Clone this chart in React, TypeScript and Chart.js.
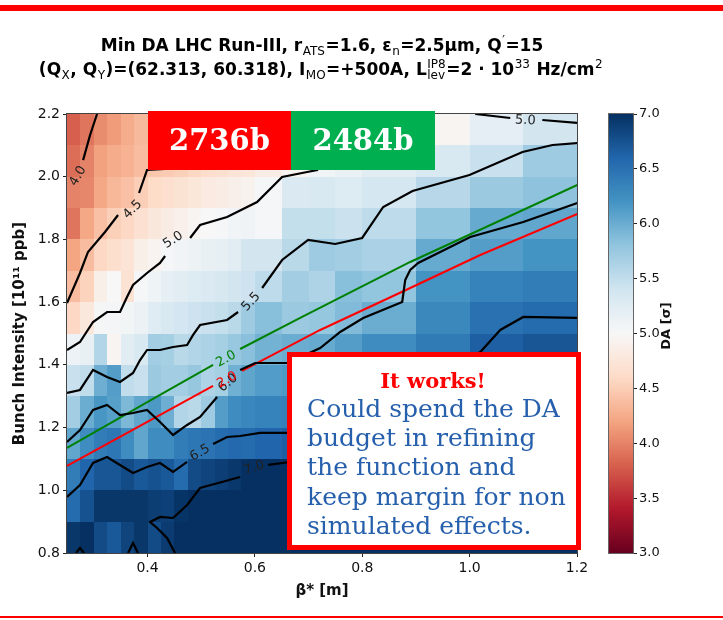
import React, { useEffect, useRef } from 'react';
import { Chart, registerables } from 'chart.js';
Chart.register(...registerables);

const SANS = '"DejaVu Sans", sans-serif';
const SERIF = '"DejaVu Serif", serif';

// ---------- data ----------
const X_EDGES = [0.25, 0.275, 0.3, 0.325, 0.35, 0.375, 0.4, 0.425, 0.45, 0.475, 0.5, 0.525, 0.55, 0.575, 0.6, 0.65, 0.7, 0.75, 0.8, 0.9, 1.0, 1.1, 1.2];
const Y_EDGES = [2.2, 2.1, 2.0, 1.9, 1.8, 1.7, 1.6, 1.5, 1.4, 1.3, 1.2, 1.1, 1.0, 0.9, 0.8];
const DA_ROWS = [
  [3.80, 3.92, 4.06, 4.15, 4.25, 4.35, 4.40, 4.42, 4.45, 4.48, 4.52, 4.55, 4.58, 4.62, 4.70, 4.78, 4.90, 5.00, 5.08, 4.96, 5.20, 5.38],
  [3.88, 4.00, 4.18, 4.25, 4.30, 4.38, 4.45, 4.48, 4.52, 4.57, 4.63, 4.67, 4.72, 4.76, 4.85, 4.95, 5.06, 5.14, 5.23, 5.32, 5.45, 5.72],
  [4.00, 4.02, 4.22, 4.34, 4.40, 4.51, 4.61, 4.66, 4.71, 4.76, 4.82, 4.85, 4.89, 4.93, 5.02, 5.30, 5.32, 5.27, 5.36, 5.56, 5.75, 5.82],
  [3.92, 4.22, 4.40, 4.52, 4.58, 4.69, 4.77, 4.84, 4.90, 4.96, 5.00, 5.02, 5.06, 5.08, 5.02, 5.48, 5.48, 5.44, 5.53, 5.80, 6.02, 6.05],
  [4.20, 4.38, 4.58, 4.65, 4.72, 4.88, 4.94, 5.02, 5.07, 5.11, 5.16, 5.18, 5.22, 5.38, 5.38, 5.55, 5.72, 5.70, 5.65, 6.02, 6.12, 6.20],
  [4.38, 4.55, 4.88, 5.00, 4.70, 5.02, 5.10, 5.18, 5.22, 5.27, 5.31, 5.33, 5.38, 5.42, 5.52, 5.70, 5.62, 5.85, 5.80, 6.20, 6.35, 6.40],
  [4.58, 4.78, 5.03, 5.04, 5.05, 5.13, 5.25, 5.32, 5.37, 5.42, 5.45, 5.48, 5.55, 5.72, 5.85, 5.75, 5.78, 5.88, 6.00, 6.30, 6.50, 6.55],
  [5.12, 5.15, 5.60, 4.95, 5.22, 5.32, 5.70, 5.68, 5.55, 5.60, 5.64, 5.68, 5.76, 5.84, 5.95, 6.00, 6.02, 6.12, 6.25, 6.42, 6.65, 6.72],
  [5.45, 5.50, 5.98, 6.12, 5.50, 5.45, 5.75, 5.70, 5.70, 5.77, 5.62, 5.68, 5.97, 6.06, 6.13, 6.15, 6.21, 6.30, 6.44, 6.61, 6.85, 7.00],
  [5.70, 6.00, 6.18, 6.10, 5.90, 6.05, 6.15, 5.98, 5.60, 5.55, 5.72, 6.12, 6.26, 6.31, 6.35, 6.37, 6.41, 6.48, 6.72, 6.92, 7.10, 7.20],
  [6.05, 6.25, 6.40, 6.45, 6.25, 6.05, 6.25, 6.25, 6.40, 6.45, 6.48, 6.54, 6.57, 6.55, 6.60, 6.65, 6.70, 6.85, 6.97, 7.10, 7.20, 7.20],
  [6.40, 6.60, 6.72, 6.72, 6.80, 6.70, 6.75, 6.70, 6.55, 6.80, 6.85, 6.89, 6.94, 7.00, 7.10, 7.10, 7.10, 7.20, 7.20, 7.20, 7.20, 7.20],
  [6.55, 6.75, 6.95, 6.95, 6.95, 6.95, 6.90, 6.88, 6.97, 7.05, 7.20, 7.20, 7.20, 7.20, 7.20, 7.20, 7.20, 7.20, 7.20, 7.20, 7.20, 7.20],
  [6.95, 7.02, 6.80, 6.70, 6.85, 6.95, 6.80, 6.92, 7.10, 7.20, 7.20, 7.20, 7.20, 7.20, 7.20, 7.20, 7.20, 7.20, 7.20, 7.20, 7.20, 7.20],
];

const X_TICKS = [0.4, 0.6, 0.8, 1.0, 1.2];
const Y_TICKS = [0.8, 1.0, 1.2, 1.4, 1.6, 1.8, 2.0, 2.2];
const CB_TICKS = [3.0, 3.5, 4.0, 4.5, 5.0, 5.5, 6.0, 6.5, 7.0];

// contour lines (each a list of segments, each a list of [beta*, intensity])
const C40 = [[[0.306, 2.2], [0.293, 2.133], [0.280, 2.053]]];
const C45 = [
  [[0.4327, 2.0246], [0.3991, 2.0214], [0.3842, 1.9481]],
  [[0.3451, 1.878], [0.3208, 1.8237], [0.2891, 1.76], [0.2742, 1.693], [0.25, 1.5973]],
];
const C50 = [
  [[0.7495, 2.2], [0.716, 2.0214], [0.6973, 2.015], [0.6507, 1.9991], [0.6041, 1.9194], [0.5482, 1.8716], [0.4979, 1.846], [0.4793, 1.8046]],
  [[0.4327, 1.7472], [0.4233, 1.7249], [0.3991, 1.693], [0.373, 1.6547], [0.3618, 1.6164], [0.3488, 1.5686], [0.3246, 1.5686], [0.2985, 1.5367], [0.2742, 1.4729], [0.25, 1.4474]],
  [[1.0105, 2.2], [1.0757, 2.1872]],
  [[1.1354, 2.1809], [1.2006, 2.1713]],
];
const C55 = [
  [[0.25, 1.3103], [0.2742, 1.3199], [0.2985, 1.3837], [0.3246, 1.3613], [0.3488, 1.3454], [0.373, 1.3741], [0.3861, 1.4155], [0.3991, 1.4474], [0.4233, 1.4474], [0.4476, 1.457], [0.4737, 1.4634], [0.4849, 1.4953], [0.4979, 1.5271], [0.5482, 1.5431], [0.5687, 1.5686]],
  [[0.6135, 1.6451], [0.6507, 1.7344], [0.6992, 1.7982], [0.7495, 1.7854], [0.7998, 1.8046], [0.839, 1.9034], [0.8936, 1.9545], [0.9997, 2.0055], [1.0985, 2.0788], [1.1544, 2.1011], [1.2006, 2.1075]],
];
const C60 = [
  [[0.25, 1.154], [0.2742, 1.1923], [0.2985, 1.2561], [0.3246, 1.272], [0.3488, 1.2401], [0.373, 1.2465], [0.3991, 1.2561], [0.4233, 1.2178], [0.4476, 1.1764], [0.4737, 1.2083], [0.4979, 1.2338], [0.5296, 1.2976]],
  [[0.5725, 1.3837], [0.6004, 1.406], [0.6619, 1.406], [0.6936, 1.4315], [0.7216, 1.4538], [0.7589, 1.5048], [0.8018, 1.5495], [0.8744, 1.6005], [0.88, 1.6706], [0.8893, 1.7025], [0.9042, 1.7249], [1.0012, 1.8078], [1.0999, 1.8556], [1.2006, 1.9162]],
];
const C65 = [
  [[0.25, 0.9787], [0.2742, 1.017], [0.2985, 1.0871], [0.3246, 1.1062], [0.3488, 1.0807], [0.373, 1.0552], [0.3991, 1.0743], [0.4233, 1.0871], [0.4476, 1.0584], [0.4737, 1.0903]],
  [[0.5221, 1.1477], [0.5482, 1.17], [0.5725, 1.1732], [0.6097, 1.1828], [0.6657, 1.1828], [0.7775, 1.2242], [0.908, 1.3358], [1.0198, 1.441], [1.0571, 1.5112], [1.0999, 1.5527], [1.2006, 1.5495]],
];
const C70 = [
  [[0.4513, 0.8], [0.4364, 0.8479], [0.4178, 0.8798], [0.4047, 0.8989], [0.4233, 0.9149], [0.4476, 0.9117], [0.4737, 0.9532], [0.4979, 1.0074], [0.5725, 1.0425]],
  [[0.6247, 1.0808], [0.6657, 1.0903], [0.8707, 1.1445], [1.2006, 1.2242]],
  [[0.2668, 0.8], [0.2742, 0.8159], [0.2817, 0.8]],
  [[0.3637, 0.8], [0.373, 0.832], [0.3823, 0.8]],
];
const LUMI_2484 = [
  [[0.25, 1.1349], [0.4233, 1.3039], [0.5221, 1.3996]],
  [[0.5725, 1.4506], [0.6843, 1.5495], [0.8893, 1.7281], [1.2006, 1.9736]],
];
const LUMI_2736 = [
  [[0.25, 1.0775], [0.5221, 1.3327]],
  [[0.5762, 1.3805], [0.7216, 1.5112], [0.8893, 1.6452], [1.0198, 1.7504], [1.2006, 1.8811]],
];
const CONTOUR_LABELS = [
  { text: '4.0', x: 0.2705, y: 2.0023, angle: -60, color: '#222' },
  { text: '4.5', x: 0.3721, y: 1.8955, angle: -45, color: '#222' },
  { text: '5.0', x: 0.4476, y: 1.7982, angle: -33, color: '#222' },
  { text: '5.0', x: 1.1037, y: 2.1790, angle: 3, color: '#222' },
  { text: '5.5', x: 0.5930, y: 1.6005, angle: -47, color: '#222' },
  { text: '6.0', x: 0.5501, y: 1.3422, angle: -40, color: '#222' },
  { text: '6.5', x: 0.4979, y: 1.1190, angle: -30, color: '#222' },
  { text: '7.0', x: 0.5986, y: 1.0711, angle: -18, color: '#222' },
  { text: '2.0', x: 0.5464, y: 1.4187, angle: -29, color: '#008000' },
  { text: '2.0', x: 0.5482, y: 1.3518, angle: -29, color: '#ff0000' },
];

const TITLE_1: [string, string][] = [['Min DA LHC Run-III, r', ''], ['ATS', 'sub'], ['=1.6, ε', ''], ['n', 'sub'], ['=2.5μm, Q', ''], ['′', 'sup'], ['=15', '']];
const TITLE_2: [string, string][] = [['(Q', ''], ['X', 'sub'], [', Q', ''], ['Y', 'sub'], [')=(62.313, 60.318), I', ''], ['MO', 'sub'], ['=+500A, L', ''], ['IP8|lev', 'stack'], ['=2 · 10', ''], ['33', 'sup'], [' Hz/cm', ''], ['2', 'sup']];
const NOTE_LINES = ['Could spend the DA', 'budget in refining', 'the function and', 'keep margin for non', 'simulated effects.'];

// ---------- colormap ----------
const RDBU = [[103, 0, 31], [178, 24, 43], [214, 96, 77], [244, 165, 130], [253, 219, 199], [247, 247, 247], [209, 229, 240], [146, 197, 222], [67, 147, 195], [33, 102, 172], [5, 48, 97]];
const CB_MIN = 3, CB_MAX = 7;
function rdbuT(t: number) {
  t = Math.max(0, Math.min(1, t));
  const s = t * 10;
  const i = Math.min(9, Math.floor(s));
  const f = s - i;
  const a = RDBU[i], b = RDBU[i + 1];
  return `rgb(${Math.round(a[0] + (b[0] - a[0]) * f)},${Math.round(a[1] + (b[1] - a[1]) * f)},${Math.round(a[2] + (b[2] - a[2]) * f)})`;
}
const rdbu = (v: number) => rdbuT((v - CB_MIN) / (CB_MAX - CB_MIN));

function drawRich(ctx: CanvasRenderingContext2D, runs: [string, string][], cx: number, base: number) {
  const MAIN = `bold 17px ${SANS}`;
  const SMALL = `12px ${SANS}`;
  const widths = runs.map(([t, k]) => {
    if (k === '') { ctx.font = MAIN; return ctx.measureText(t).width; }
    ctx.font = SMALL;
    if (k === 'stack') { const [a, b] = t.split('|'); return Math.max(ctx.measureText(a).width, ctx.measureText(b).width) + 1; }
    return ctx.measureText(t).width + 1;
  });
  const total = widths.reduce((a, b) => a + b, 0);
  let x = cx - total / 2;
  ctx.textAlign = 'left';
  ctx.textBaseline = 'alphabetic';
  ctx.fillStyle = '#000';
  runs.forEach(([t, k], i) => {
    if (k === '') { ctx.font = MAIN; ctx.fillText(t, x, base); }
    else {
      ctx.font = SMALL;
      if (k === 'sub') ctx.fillText(t, x + 0.5, base + 4);
      else if (k === 'sup') ctx.fillText(t, x + 0.5, base - 7);
      else { const [a, b] = t.split('|'); ctx.fillText(a, x + 0.5, base - 7.5); ctx.fillText(b, x + 0.5, base + 4); }
    }
    x += widths[i];
  });
}

const heatPlugin = {
  id: 'heat',
  beforeDatasetsDraw(chart: any) {
    const { ctx, scales: { x, y } } = chart;
    ctx.save();
    for (let r = 0; r < DA_ROWS.length; r++) {
      const y0 = Math.round(y.getPixelForValue(Y_EDGES[r]));
      const y1 = Math.round(y.getPixelForValue(Y_EDGES[r + 1]));
      for (let c = 0; c < DA_ROWS[r].length; c++) {
        const x0 = Math.round(x.getPixelForValue(X_EDGES[c]));
        const x1 = Math.round(x.getPixelForValue(X_EDGES[c + 1]));
        ctx.fillStyle = rdbu(DA_ROWS[r][c]);
        ctx.fillRect(x0, y0, x1 - x0, y1 - y0);
      }
    }
    ctx.restore();
  },
  afterDatasetsDraw(chart: any) {
    const { ctx, scales: { x, y }, chartArea } = chart;
    ctx.save();
    ctx.font = `13px ${SANS}`;
    ctx.textAlign = 'center';
    ctx.textBaseline = 'middle';
    for (const L of CONTOUR_LABELS) {
      ctx.save();
      ctx.translate(x.getPixelForValue(L.x), y.getPixelForValue(L.y));
      ctx.rotate((L.angle * Math.PI) / 180);
      ctx.fillStyle = L.color;
      ctx.fillText(L.text, 0, 0);
      ctx.restore();
    }
    ctx.strokeStyle = '#444';
    ctx.lineWidth = 1;
    ctx.strokeRect(Math.round(chartArea.left) - 0.5, Math.round(chartArea.top) - 0.5, Math.round(chartArea.right - chartArea.left) + 1, Math.round(chartArea.bottom - chartArea.top) + 1);
    ctx.restore();
  },
  afterDraw(chart: any) {
    const ctx: CanvasRenderingContext2D = chart.ctx;
    ctx.save();
    // slide decorations
    ctx.fillStyle = '#ff0000';
    ctx.fillRect(0, 5, 723, 6);
    ctx.fillRect(0, 616, 723, 2);
    // title
    drawRich(ctx, TITLE_1, 322, 51);
    drawRich(ctx, TITLE_2, 321, 75);
    // filling-scheme boxes
    ctx.fillStyle = '#ff0000';
    ctx.fillRect(148, 111, 143, 59);
    ctx.fillStyle = '#00b050';
    ctx.fillRect(291, 111, 144, 59);
    ctx.fillStyle = '#fff';
    ctx.font = `bold 29px ${SERIF}`;
    ctx.textAlign = 'center';
    ctx.textBaseline = 'middle';
    ctx.fillText('2736b', 219.5, 142);
    ctx.fillText('2484b', 363, 142);
    // note box
    ctx.fillStyle = '#fff';
    ctx.fillRect(287, 352, 294, 198);
    ctx.strokeStyle = '#ff0000';
    ctx.lineWidth = 5;
    ctx.strokeRect(289.5, 354.5, 289, 193);
    ctx.fillStyle = '#ff0000';
    ctx.font = `bold 21px ${SERIF}`;
    ctx.textBaseline = 'alphabetic';
    ctx.fillText('It works!', 433, 388);
    ctx.fillStyle = '#2660ad';
    ctx.font = `25px ${SERIF}`;
    ctx.textAlign = 'left';
    NOTE_LINES.forEach((t, i) => ctx.fillText(t, 307, 417 + i * 29.2));
    ctx.restore();
  },
};

const cbPlugin = {
  id: 'cbar',
  beforeDatasetsDraw(chart: any) {
    const { ctx, chartArea: a } = chart;
    ctx.save();
    const g = ctx.createLinearGradient(0, a.bottom, 0, a.top);
    for (let i = 0; i <= 40; i++) g.addColorStop(i / 40, rdbuT(i / 40));
    ctx.fillStyle = g;
    ctx.fillRect(a.left, a.top, a.right - a.left, a.bottom - a.top);
    ctx.strokeStyle = '#666';
    ctx.lineWidth = 1;
    ctx.strokeRect(Math.round(a.left) - 0.5, Math.round(a.top) - 0.5, Math.round(a.right - a.left) + 1, Math.round(a.bottom - a.top) + 1);
    ctx.translate(67, 326);
    ctx.rotate(-Math.PI / 2);
    ctx.font = `bold 13px ${SANS}`;
    ctx.fillStyle = '#111';
    ctx.textAlign = 'center';
    ctx.textBaseline = 'middle';
    ctx.fillText('DA [σ]', 0, 0);
    ctx.restore();
  },
};

export default function App() {
  const mainRef = useRef<HTMLCanvasElement>(null);
  const cbRef = useRef<HTMLCanvasElement>(null);

  useEffect(() => {
    const datasets: any[] = [];
    const add = (segs: number[][][], color: string, width: number) =>
      segs.forEach((seg) =>
        datasets.push({
          data: seg.map(([x, y]) => ({ x, y })),
          showLine: true,
          borderColor: color,
          borderWidth: width,
          pointRadius: 0,
          fill: false,
          tension: 0,
        })
      );
    [C40, C45, C50, C55, C60, C65, C70].forEach((c) => add(c, '#000', 2.2));
    add(LUMI_2484, '#008000', 2);
    add(LUMI_2736, '#ff0000', 2);

    const tickFont = { family: SANS, size: 14 };
    const main = new Chart(mainRef.current as HTMLCanvasElement, {
      type: 'scatter',
      data: { datasets },
      options: {
        responsive: false,
        animation: false,
        events: [],
        layout: { padding: { left: 10, right: 146, top: 114, bottom: 10 } },
        plugins: { legend: { display: false }, tooltip: { enabled: false } },
        scales: {
          x: {
            type: 'linear', min: 0.25, max: 1.2,
            afterBuildTicks: (s: any) => { s.ticks = X_TICKS.map((v) => ({ value: v })); },
            afterFit: (s: any) => { s.height = 57; },
            ticks: { callback: (v: any) => Number(v).toFixed(1), font: tickFont, color: '#111', maxRotation: 0, autoSkip: false, padding: 3 },
            grid: { drawOnChartArea: false, drawTicks: true, tickLength: 4, color: '#222' },
            border: { display: false },
            title: { display: true, text: 'β* [m]', font: { family: SANS, size: 15, weight: 'bold' }, color: '#111', padding: { top: 0, bottom: 10 } },
          },
          y: {
            type: 'linear', min: 0.8, max: 2.2,
            afterBuildTicks: (s: any) => { s.ticks = Y_TICKS.map((v) => ({ value: v })); },
            afterFit: (s: any) => { s.width = 57; },
            ticks: { callback: (v: any) => Number(v).toFixed(1), font: tickFont, color: '#111', autoSkip: false, padding: 3 },
            grid: { drawOnChartArea: false, drawTicks: true, tickLength: 4, color: '#222' },
            border: { display: false },
            title: { display: true, text: 'Bunch Intensity [10¹¹ ppb]', font: { family: SANS, size: 15, weight: 'bold' }, color: '#111', padding: { top: 1, bottom: 0 } },
          },
        },
      } as any,
      plugins: [heatPlugin],
    });

    const cb = new Chart(cbRef.current as HTMLCanvasElement, {
      type: 'scatter',
      data: { datasets: [] },
      options: {
        responsive: false,
        animation: false,
        events: [],
        layout: { padding: { left: 9, right: 0, top: 114, bottom: 67 } },
        plugins: { legend: { display: false }, tooltip: { enabled: false } },
        scales: {
          x: { display: false, min: 0, max: 1 },
          y: {
            position: 'right', min: CB_MIN, max: CB_MAX,
            afterBuildTicks: (s: any) => { s.ticks = CB_TICKS.map((v) => ({ value: v })); },
            afterFit: (s: any) => { s.width = 90; },
            ticks: { callback: (v: any) => Number(v).toFixed(1), font: { family: SANS, size: 13 }, color: '#111', autoSkip: false, padding: 2 },
            grid: { drawOnChartArea: false, drawTicks: true, tickLength: 4, color: '#222' },
            border: { display: false },
          },
        },
      } as any,
      plugins: [cbPlugin],
    });

    return () => { main.destroy(); cb.destroy(); };
  }, []);

  return (
    <div style={{ position: 'absolute', left: 0, top: 0, width: 723, height: 620, background: '#fff' }}>
      <canvas ref={mainRef} width={723} height={620} style={{ position: 'absolute', left: 0, top: 0, width: 723, height: 620 }} />
      <canvas ref={cbRef} width={123} height={620} style={{ position: 'absolute', left: 600, top: 0, width: 123, height: 620 }} />
    </div>
  );
}
